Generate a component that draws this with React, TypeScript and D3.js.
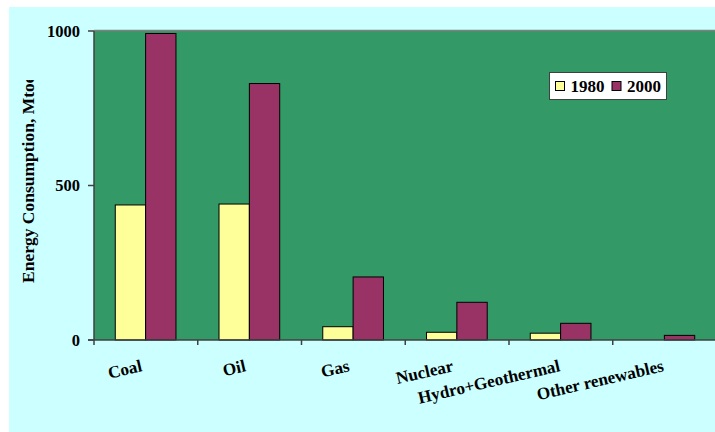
import React from "react";
import * as d3 from "d3";

const categories = ["Coal", "Oil", "Gas", "Nuclear", "Hydro+Geothermal", "Other renewables"];
const seriesNames = ["1980", "2000"];
const values1980 = [437, 440, 43, 25, 22, 0];
const values2000 = [992, 830, 204, 122, 54, 15];
const yTicks = [0, 500, 1000];
const colors = ["#FFFF99", "#993366"];

const W = 715;
const H = 432;
const plot = { left: 94, top: 31, right: 716.5, bottom: 340 };
const font = "'Liberation Serif', 'Times New Roman', serif";

export default function App() {
  const x = d3.scaleBand<string>().domain(categories).range([plot.left, plot.right]).padding(0);
  const bw = x.bandwidth();
  const x1 = d3.scaleBand<string>().domain(seriesNames).range([bw * 0.205, bw * 0.79]).padding(0);
  const y = d3.scaleLinear().domain([0, 1000]).range([plot.bottom, plot.top]);
  const series = [values1980, values2000];

  return (
    <svg
      width={W}
      height={H}
      style={{ position: "absolute", left: 0, top: 0, display: "block" }}
      fontFamily={font}
    >
      <defs>
        <clipPath id="ttl">
          <rect x={0} y={80} width={60} height={300} />
        </clipPath>
      </defs>
      <rect x={0} y={0} width={W} height={H} fill="#ffffff" />
      <rect x={9} y={7} width={W - 9} height={H - 7} fill="#CCFFFF" />
      <rect x={plot.left} y={plot.top} width={plot.right - plot.left} height={plot.bottom - plot.top} fill="#339966" />
      <line x1={plot.left} x2={W} y1={plot.top - 0.5} y2={plot.top - 0.5} stroke="#808080" strokeWidth={1.5} />

      {categories.map((c, i) =>
        series.map((vals, s) => {
          const v = vals[i];
          if (v <= 0) return null;
          const bx = (x(c) as number) + (x1(seriesNames[s]) as number);
          return (
            <rect
              key={c + s}
              x={bx}
              y={y(v)}
              width={x1.bandwidth()}
              height={y(0) - y(v)}
              fill={colors[s]}
              stroke="#000"
              strokeWidth={1}
            />
          );
        })
      )}

      {/* axes */}
      <line x1={plot.left} x2={plot.left} y1={plot.top} y2={plot.bottom} stroke="#404040" strokeWidth={1.5} />
      <line x1={plot.left - 6} x2={W} y1={plot.bottom} y2={plot.bottom} stroke="#404040" strokeWidth={1.5} />
      {yTicks.map((t) => (
        <g key={t}>
          <line x1={plot.left - 6} x2={plot.left} y1={y(t)} y2={y(t)} stroke="#404040" strokeWidth={1.5} />
          <text
            x={80}
            y={y(t)}
            dy="0.35em"
            textAnchor="end"
            fontSize={16.5}
            fontWeight="bold"
            fill="#000"
          >
            {t}
          </text>
        </g>
      ))}
      {categories.map((c) => (
        <line
          key={"t" + c}
          x1={x(c) as number}
          x2={x(c) as number}
          y1={plot.bottom}
          y2={plot.bottom + 5}
          stroke="#404040"
          strokeWidth={1.5}
        />
      ))}
      {categories.map((c) => {
        const cx = (x(c) as number) + bw / 2 - 3 + (c.length > 10 ? 3 : 0);
        const cy = 371;
        return (
          <text
            key={"l" + c}
            x={cx}
            y={cy}
            textAnchor="end"
            fontSize={17.2}
            fontWeight="bold"
            fill="#000"
            transform={`rotate(-13, ${cx}, ${cy})`}
          >
            {c}
          </text>
        );
      })}

      {/* y title */}
      <g clipPath="url(#ttl)">
        <text
          x={0}
          y={0}
          transform="translate(34,283) rotate(-90)"
          textAnchor="start"
          fontSize={17.5}
          fontWeight="bold"
          fill="#000"
        >
          Energy Consumption, Mtoe
        </text>
      </g>

      {/* legend */}
      <rect x={549.5} y={72.5} width={117} height={27} fill="#ffffff" stroke="#404040" strokeWidth={1} />
      {seriesNames.map((s, i) => {
        const lx = 555 + i * 56.5;
        return (
          <g key={"lg" + s}>
            <rect x={lx + 0.5} y={81.5} width={9} height={9} fill={colors[i]} stroke="#000" strokeWidth={1} />
            <text x={lx + 15.5} y={92} fontSize={17} fontWeight="bold" fill="#000">
              {s}
            </text>
          </g>
        );
      })}
    </svg>
  );
}
